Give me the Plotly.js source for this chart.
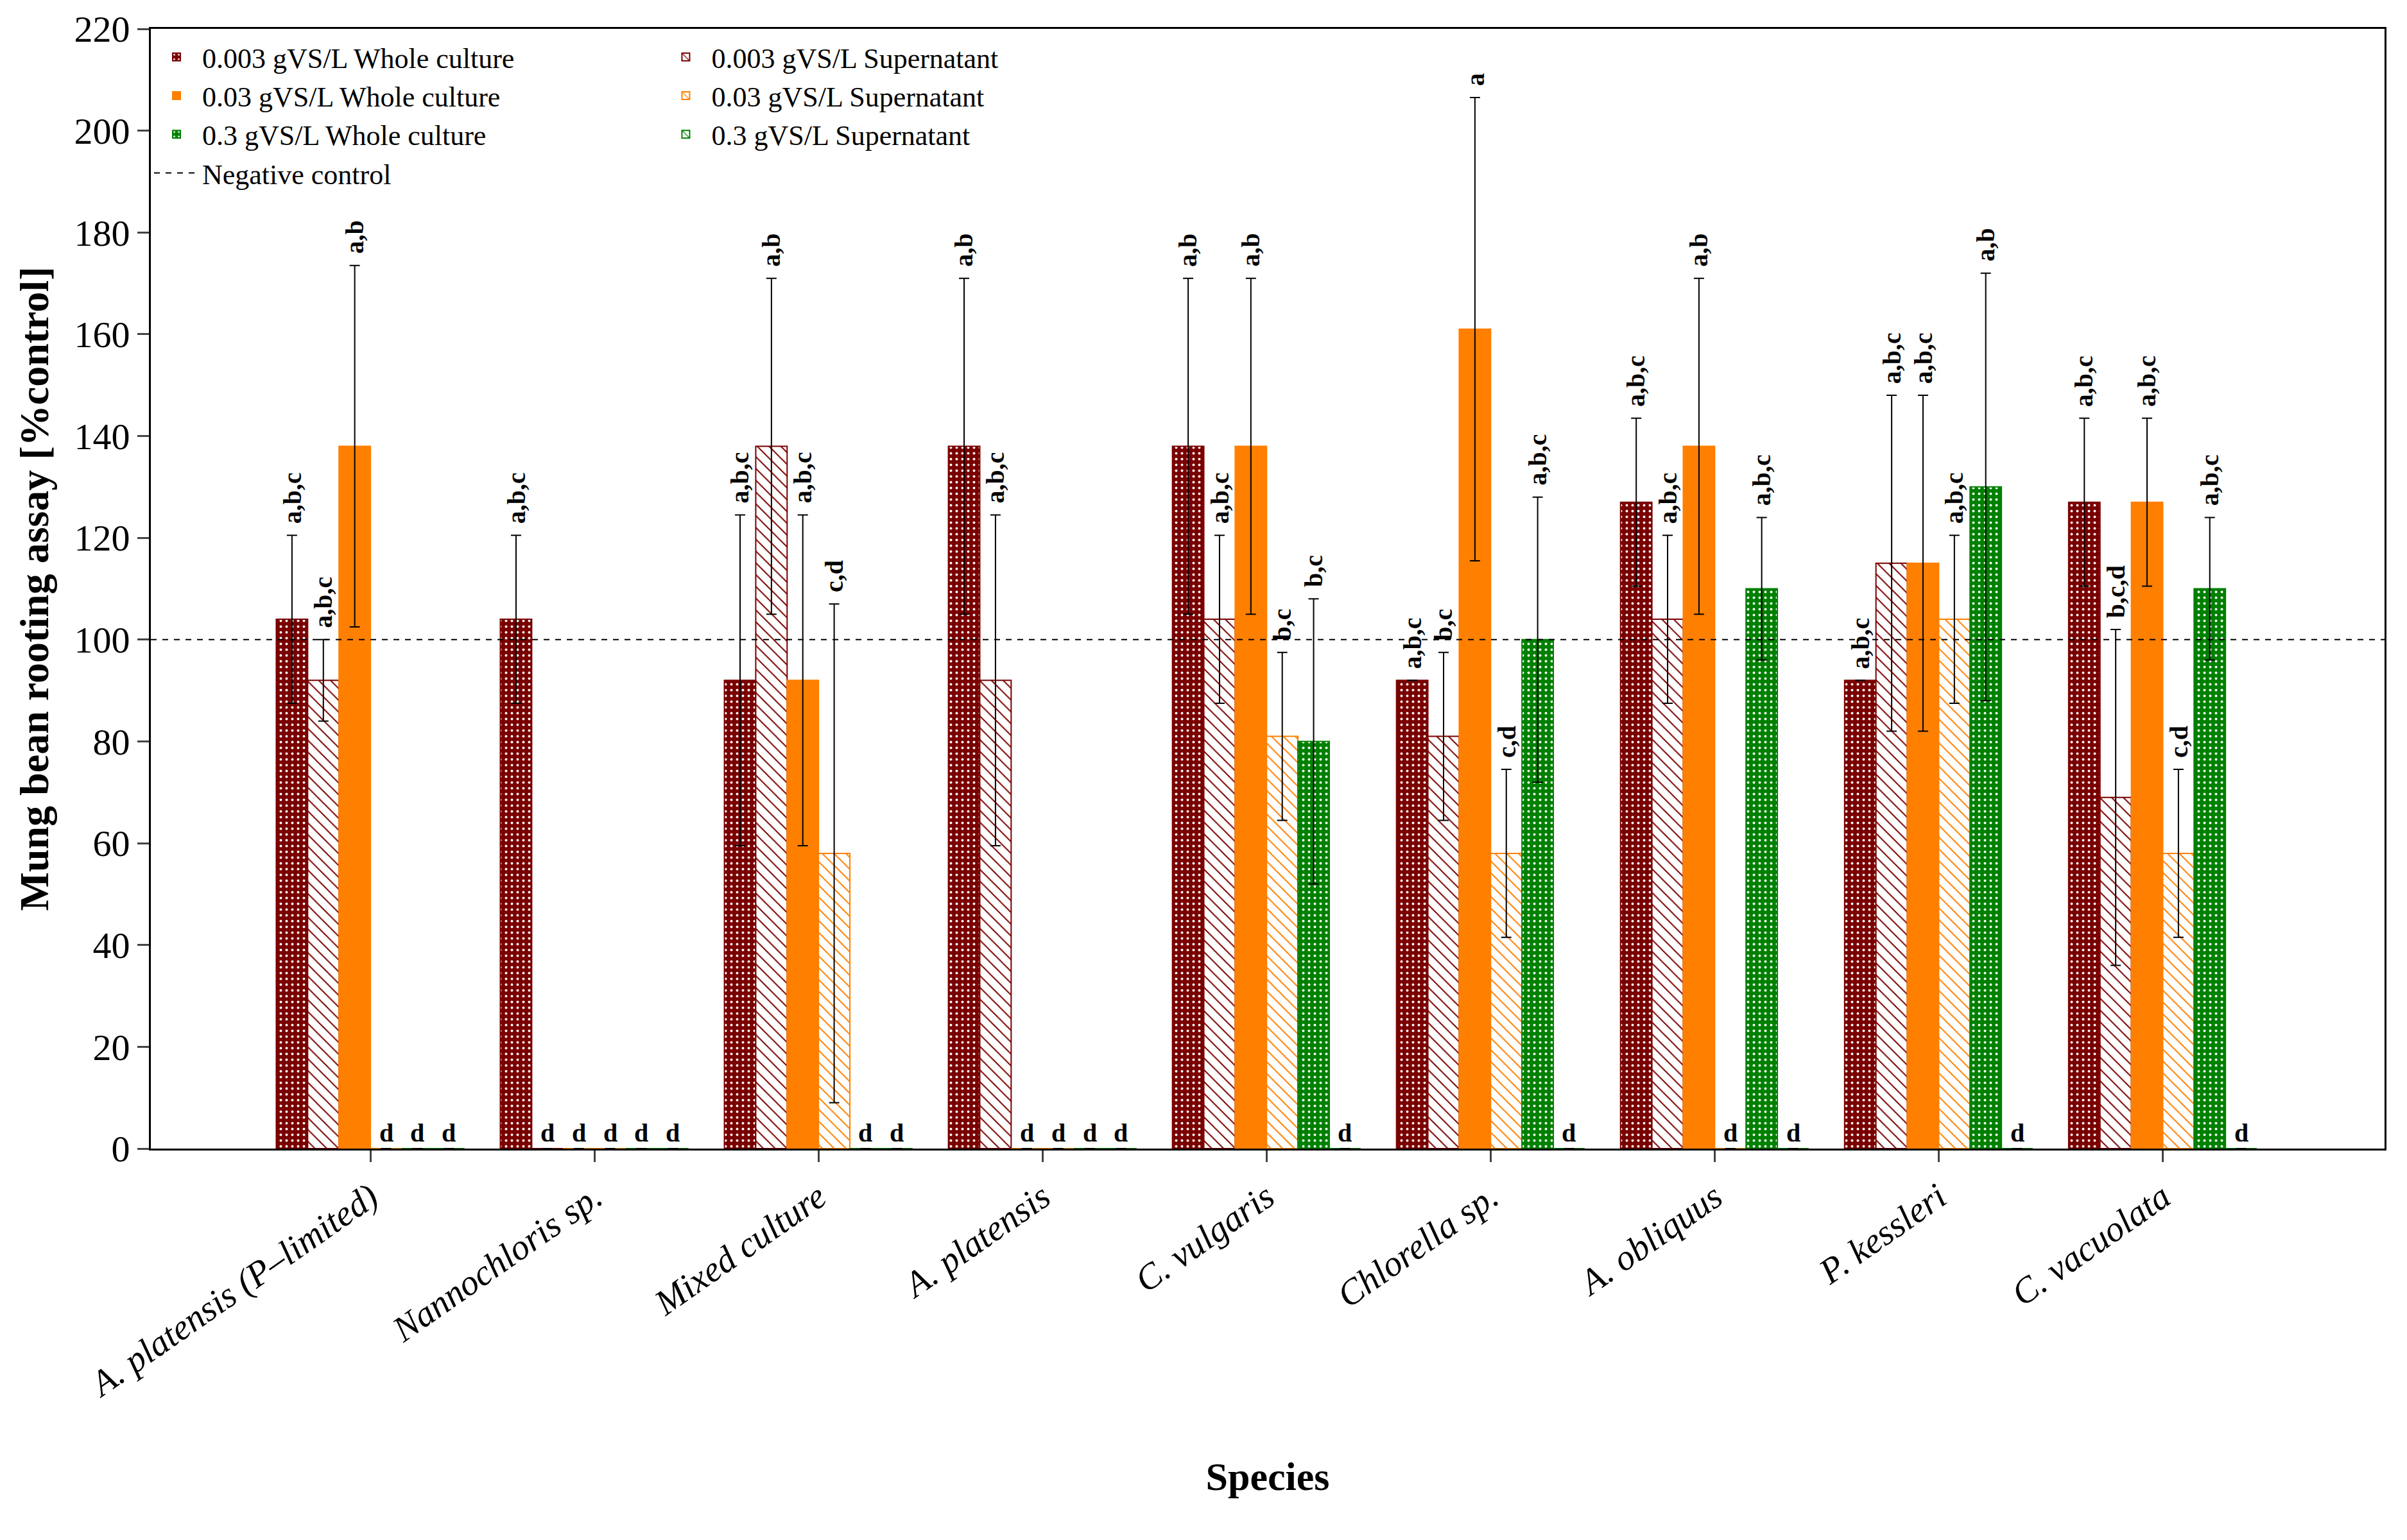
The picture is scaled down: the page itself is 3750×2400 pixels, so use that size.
<!DOCTYPE html>
<html>
<head>
<meta charset="utf-8">
<script src="https://cdn.plot.ly/plotly-3.0.1.min.js"></script>
<style>body{margin:0;background:#fff}</style>
</head>
<body>
<div id="chart" style="width:3750px;height:2400px"></div>
<script>
var species = ["A. platensis (P\u2013limited)", "Nannochloris sp.", "Mixed culture", "A. platensis",
  "C. vulgaris", "Chlorella sp.", "A. obliquus", "P. kessleri", "C. vacuolata"];

var seriesNames = ["0.003 gVS/L Whole culture", "0.003 gVS/L Supernatant",
  "0.03 gVS/L Whole culture", "0.03 gVS/L Supernatant",
  "0.3 gVS/L Whole culture", "0.3 gVS/L Supernatant"];

// values per series
var wc003 = [104, 104, 92, 138, 138, 92, 127, 92, 127];
var sn003 = [92, 0, 138, 92, 104, 81, 104, 115, 69];
var wc03  = [138, 0, 92, 0, 138, 161, 138, 115, 127];
var sn03  = [0, 0, 58, 0, 81, 58, 0, 104, 58];
var wc3   = [0, 0, 0, 0, 80, 100, 110, 130, 110];
var sn3   = [0, 0, 0, 0, 0, 0, 0, 0, 0];

// error half widths
var e_wc003 = [16.5, 16.5, 32.5, 33, 33, 0, 16.5, 0, 16.5];
var e_sn003 = [8, 0, 33, 32.5, 16.5, 16.5, 16.5, 33, 33];
var e_wc03  = [35.5, 0, 32.5, 0, 33, 45.5, 33, 33, 16.5];
var e_sn03  = [0, 0, 49, 0, 16.5, 16.5, 0, 16.5, 16.5];
var e_wc3   = [0, 0, 0, 0, 28, 28, 14, 42, 14];
var e_sn3   = [0, 0, 0, 0, 0, 0, 0, 0, 0];

// significance letters
var l_wc003 = ["a,b,c", "a,b,c", "a,b,c", "a,b", "a,b", "a,b,c", "a,b,c", "a,b,c", "a,b,c"];
var l_sn003 = ["a,b,c", "d", "a,b", "a,b,c", "a,b,c", "b,c", "a,b,c", "a,b,c", "b,c,d"];
var l_wc03  = ["a,b", "d", "a,b,c", "d", "a,b", "a", "a,b", "a,b,c", "a,b,c"];
var l_sn03  = ["d", "d", "c,d", "d", "b,c", "c,d", "d", "a,b,c", "c,d"];
var l_wc3   = ["d", "d", "d", "d", "b,c", "a,b,c", "a,b,c", "a,b", "a,b,c"];
var l_sn3   = ["d", "d", "d", "d", "d", "d", "d", "d", "d"];

var controlValue = 100;

var colors = ["#7a0000", "#7a0000", "#ff8000", "#ff8000", "#008000", "#008000"];
var values = [wc003, sn003, wc03, sn03, wc3, sn3];
var errs = [e_wc003, e_sn003, e_wc03, e_sn03, e_wc3, e_sn3];
var letters = [l_wc003, l_sn003, l_wc03, l_sn03, l_wc3, l_sn3];

var bargap = 0.16;
var xIdx = species.map(function (s, i) { return i; });
var font = "Liberation Serif, DejaVu Serif, serif";

var data = [];
var annotations = [];
for (var s = 0; s < 6; s++) {
  var whole = (s % 2 === 0);
  var pattern;
  if (whole) {
    pattern = s === 2 ? {shape: ""} : {shape: ".", fgcolor: "#ffffff", bgcolor: colors[s], size: 9, solidity: 0.15, fillmode: "replace"};
  } else {
    pattern = {shape: "\\", fgcolor: colors[s], bgcolor: "#ffffff", size: 13, solidity: 0.15, fillmode: "replace"};
  }
  data.push({
    type: "bar",
    name: seriesNames[s],
    legend: whole ? "legend" : "legend2",
    x: xIdx,
    y: values[s],
    marker: {color: whole ? colors[s] : "#ffffff", pattern: pattern, line: {color: colors[s], width: 2}},
    error_y: {type: "data", array: errs[s], visible: true, color: "#000", thickness: 2, width: 8},
    hoverinfo: "y"
  });
  var w = (1 - bargap) / 6;
  var off = -(1 - bargap) / 2 + (s + 0.5) * w;
  for (var g = 0; g < species.length; g++) {
    var v = values[s][g];
    var a = {
      x: g + off, y: v > 0 ? v + errs[s][g] + 2 : 0, xref: "x", yref: "y",
      text: "<b>" + letters[s][g] + "</b>", showarrow: false,
      xanchor: "center", yanchor: "bottom", font: {family: font, size: 40, color: "#000"}
    };
    if (v > 0) a.textangle = -90;
    annotations.push(a);
  }
}

data.push({
  type: "scatter", mode: "lines", name: "Negative control", legend: "legend",
  x: [-0.98, 8.99], y: [controlValue, controlValue],
  line: {color: "#000", width: 2, dash: "dash"}, hoverinfo: "skip"
});

var legendBase = {
  yanchor: "top", xanchor: "left", orientation: "v", traceorder: "normal",
  bgcolor: "rgba(0,0,0,0)", font: {family: font, size: 44}, itemwidth: 70, tracegroupgap: 0
};

var layout = {
  width: 3750, height: 2400,
  margin: {l: 235, r: 35, t: 45, b: 610},
  paper_bgcolor: "#fff", plot_bgcolor: "#fff",
  barmode: "group", bargap: bargap, bargroupgap: 0,
  font: {family: font, color: "#000"},
  showlegend: true,
  legend: Object.assign({}, legendBase, {x: 0.0, y: 0.995}),
  legend2: Object.assign({}, legendBase, {x: 0.228, y: 0.995}),
  xaxis: {
    range: [-0.98, 8.99], tickmode: "array", tickvals: xIdx,
    ticktext: species.map(function (s) { return "<i>" + s + "</i>"; }),
    tickangle: -35, tickfont: {family: font, size: 56},
    ticks: "outside", ticklen: 18, tickwidth: 3, showline: true, linewidth: 3, linecolor: "#000",
    mirror: true, showgrid: false, zeroline: false,
    title: {text: "<b>Species</b>", font: {family: font, size: 62}, standoff: 90}
  },
  yaxis: {
    range: [0, 220], dtick: 20, tickfont: {family: font, size: 58},
    ticks: "outside", ticklen: 18, tickwidth: 3, showline: true, linewidth: 3, linecolor: "#000",
    mirror: true, showgrid: false, zeroline: false,
    title: {text: "<b>Mung bean rooting assay [%control]</b>", font: {family: font, size: 64}, standoff: 20}
  },
  annotations: annotations
};

Plotly.newPlot("chart", data, layout, {displayModeBar: false});
</script>
</body>
</html>
